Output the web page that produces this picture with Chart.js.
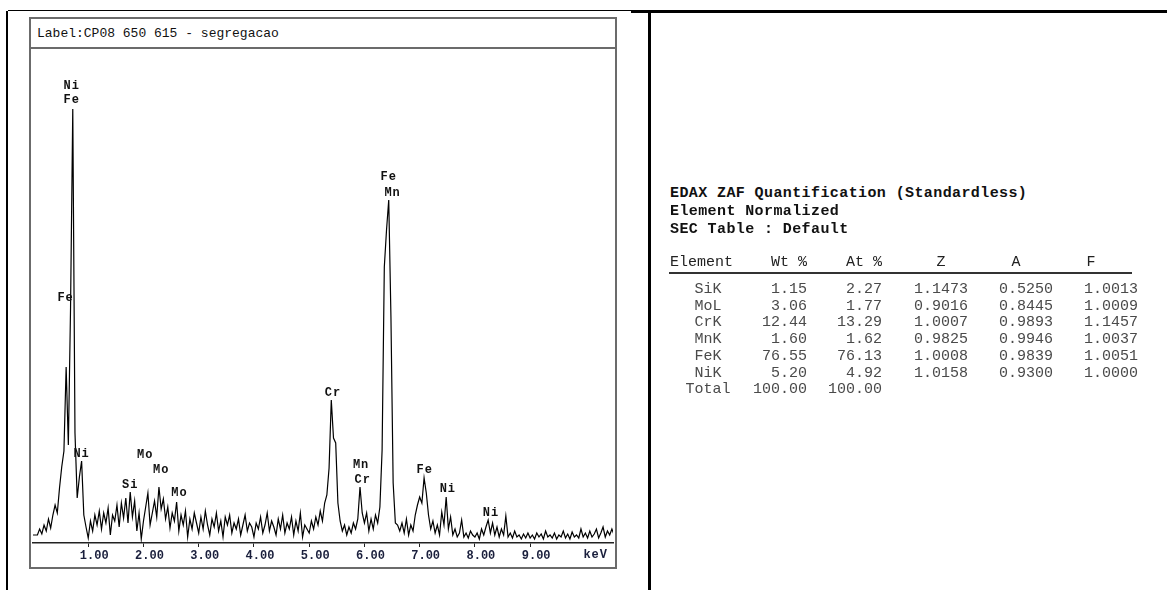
<!DOCTYPE html>
<html>
<head>
<meta charset="utf-8">
<script src="https://cdn.jsdelivr.net/npm/chart.js@4/dist/chart.umd.min.js"></script>
<style>
  html, body { margin: 0; padding: 0; background: #fff; }
  body { width: 1167px; height: 590px; position: relative; overflow: hidden; font-family: 'Liberation Mono', monospace; }
  .rule { position: absolute; background: #000; }
  #box { position: absolute; left: 29px; top: 17px; width: 584px; height: 548px; border: 2px solid #6b6b6b; }
  #boxHead { position: absolute; left: 0; top: 0; width: 584px; height: 30px; border-bottom: 2px solid #6b6b6b;
             box-sizing: border-box; padding-left: 6px; font-size: 13px; line-height: 30px; color: #111; }
  #spectrum { position: absolute; left: 0; top: 30px; }
  .t { position: absolute; white-space: pre; font-size: 15px; line-height: 18px; }
</style>
</head>
<body>
<div class="rule" style="left:8px; top:10px; width:623px; height:1px;"></div>
<div class="rule" style="left:631px; top:10px; width:536px; height:3px;"></div>
<div class="rule" style="left:6px; top:11px; width:2px; height:579px;"></div>
<div class="rule" style="left:648px; top:11px; width:3px; height:579px;"></div>

<div id="box">
  <div id="boxHead">Label:CP08 650 615 - segregacao</div>
  <canvas id="spectrum" width="584" height="518"></canvas>
</div>
<div id="quant"></div>

<script>
// spectrum channels (keV), counts
const channelStart = 0.0;
const channelWidth = 0.04;
const counts = [
  8, 8, 8, 14, 9, 18, 12, 24, 15, 28, 38, 30, 55, 76, 92, 176, 98, 236, 434, 110, 45, 66, 82, 28, 16,
  5, 22, 12, 28, 18, 32, 14, 30, 20, 35, 8, 28, 22, 38, 16, 40, 25, 45, 20, 51, 26, 42, 12, 30, 4,
  22, 36, 50, 18, 30, 42, 26, 56, 34, 44, 24, 36, 15, 30, 22, 41, 12, 28, 18, 32, 6, 24, 14, 30, 20,
  10, 26, 14, 32, 18, 8, 24, 16, 30, 12, 22, 6, 26, 18, 28, 10, 20, 14, 24, 8, 18, 28, 12, 20, 16,
  6, 20, 14, 26, 10, 18, 30, 12, 22, 16, 8, 24, 14, 28, 10, 20, 14, 26, 8, 22, 12, 30, 6, 18, 14,
  10, 22, 14, 26, 18, 32, 22, 40, 48, 75, 143, 105, 100, 40, 22, 12, 18, 8, 16, 10, 20, 14, 24, 56, 30,
  20, 30, 12, 24, 14, 28, 20, 36, 93, 276, 313, 343, 226, 60, 20, 18, 12, 20, 10, 24, 8, 18, 12, 28, 38,
  46, 40, 65, 50, 28, 14, 22, 10, 18, 8, 31, 18, 46, 14, 26, 8, 14, 6, 10, 23, 6, 10, 5, 12, 8,
  6, 10, 4, 14, 8, 16, 23, 10, 20, 8, 16, 6, 14, 8, 27, 6, 10, 5, 12, 6, 8, 4, 9, 5, 10,
  5, 8, 4, 10, 6, 9, 4, 12, 6, 8, 5, 10, 4, 8, 6, 12, 5, 9, 4, 11, 6, 8, 5, 14, 6,
  10, 5, 12, 6, 9, 14, 5, 10, 16, 6, 12, 8, 14, 8
];

// peak identification labels: element, energy (keV), height (counts)
const peakNames = ['Ni', 'Fe', 'Fe', 'Ni', 'Mo', 'Mo', 'Si', 'Mo', 'Cr', 'Fe', 'Mn', 'Mn', 'Cr', 'Fe', 'Ni', 'Ni'];
const peakEnergy = [0.70, 0.70, 0.59, 0.88, 2.03, 2.32, 1.76, 2.65, 5.43, 6.44, 6.51, 5.94, 5.97, 7.09, 7.51, 8.29];
const peakHeight = [457, 443, 245, 89, 88, 73, 58, 50, 150, 366, 350, 78, 63, 73, 54, 30];

// EDAX ZAF table
const titleLines = ['EDAX ZAF Quantification (Standardless)', 'Element Normalized', 'SEC Table : Default'];
const elements = ['SiK', 'MoL', 'CrK', 'MnK', 'FeK', 'NiK'];
const wtPct = ['1.15', '3.06', '12.44', '1.60', '76.55', '5.20'];
const atPct = ['2.27', '1.77', '13.29', '1.62', '76.13', '4.92'];
const zCorr = ['1.1473', '0.9016', '1.0007', '0.9825', '1.0008', '1.0158'];
const aCorr = ['0.5250', '0.8445', '0.9893', '0.9946', '0.9839', '0.9300'];
const fCorr = ['1.0013', '1.0009', '1.1457', '1.0037', '1.0051', '1.0000'];
const totals = ['Total', '100.00', '100.00'];

// ---- table ----
const quant = document.getElementById('quant');
function put(text, x, y, align, style) {
    const d = document.createElement('div');
    d.className = 't';
    d.textContent = text;
    const w = 200;
    if (align === 'right') d.style.left = (x - w) + 'px';
    else if (align === 'center') d.style.left = (x - w / 2) + 'px';
    else d.style.left = x + 'px';
    d.style.width = w + 'px';
    d.style.textAlign = align;
    d.style.top = (y - 9) + 'px';
    Object.assign(d.style, style || {});
    quant.appendChild(d);
}

const boldStyle = { fontWeight: 'bold', color: '#111', letterSpacing: '0.4px' };
titleLines.forEach((t, i) => put(t, 670, 194 + i * 17.8, 'left', boldStyle));

const headStyle = { color: '#222' };
put('Element', 670, 263, 'left', headStyle);
put('Wt %', 807, 263, 'right', headStyle);
put('At %', 882, 263, 'right', headStyle);
put('Z', 941, 263, 'center', headStyle);
put('A', 1016, 263, 'center', headStyle);
put('F', 1091, 263, 'center', headStyle);

const line = document.createElement('div');
line.className = 'rule';
Object.assign(line.style, { left: '669px', top: '272px', width: '463px', height: '2px', background: '#333' });
quant.appendChild(line);

const cellStyle = { color: '#4a4a4a' };
elements.forEach((el, i) => {
    const y = 290 + i * 16.7;
    put(el, 708, y, 'center', cellStyle);
    put(wtPct[i], 807, y, 'right', cellStyle);
    put(atPct[i], 882, y, 'right', cellStyle);
    put(zCorr[i], 968, y, 'right', cellStyle);
    put(aCorr[i], 1053, y, 'right', cellStyle);
    put(fCorr[i], 1138, y, 'right', cellStyle);
});
put(totals[0], 708, 390, 'center', cellStyle);
put(totals[1], 807, 390, 'right', cellStyle);
put(totals[2], 882, 390, 'right', cellStyle);

// ---- spectrum ----
const spectrumPoints = counts.map((c, i) => ({ x: channelStart + i * channelWidth, y: c }));

const peakLabels = {
    id: 'peakLabels',
    afterDatasetsDraw(chart) {
        const { ctx, scales: { x, y }, chartArea } = chart;
        ctx.save();
        ctx.fillStyle = '#111';
        ctx.font = 'bold 12px "Liberation Mono"';
        ctx.letterSpacing = '1px';
        ctx.textAlign = 'center';
        ctx.textBaseline = 'middle';
        peakNames.forEach((name, i) => {
            ctx.fillText(name, x.getPixelForValue(peakEnergy[i]), y.getPixelForValue(peakHeight[i]));
        });
        ctx.fillStyle = '#1a1f3c';
        ctx.textAlign = 'right';
        ctx.fillText('keV', chartArea.right - 5, chartArea.bottom + 12);
        ctx.restore();
    }
};

new Chart(document.getElementById('spectrum'), {
    type: 'line',
    data: {
        datasets: [{
            data: spectrumPoints,
            borderColor: '#000',
            borderWidth: 1.2,
            pointRadius: 0,
            tension: 0,
            fill: false
        }]
    },
    options: {
        responsive: false,
        animation: false,
        devicePixelRatio: 1,
        layout: { padding: 0 },
        scales: {
            x: {
                type: 'linear',
                min: 0,
                max: 10.5,
                border: { display: true, color: '#222', width: 1.5 },
                grid: {
                    drawOnChartArea: false,
                    drawTicks: true,
                    tickLength: 4,
                    color: (c) => (c.tick && c.tick.value >= 1 && c.tick.value <= 9) ? '#222' : 'rgba(0,0,0,0)'
                },
                ticks: {
                    stepSize: 1,
                    autoSkip: false,
                    maxRotation: 0,
                    labelOffset: 6,
                    padding: 2,
                    color: '#1a1f3c',
                    font: { family: 'Liberation Mono', size: 12, weight: 'bold' },
                    callback: (v) => (v >= 1 && v <= 9) ? Number(v).toFixed(2) : ''
                },
                afterFit: (s) => { s.height = 24; }
            },
            y: {
                display: false,
                min: 0,
                max: 494
            }
        },
        plugins: {
            legend: { display: false },
            tooltip: { enabled: false }
        }
    },
    plugins: [peakLabels]
});
</script>
</body>
</html>
